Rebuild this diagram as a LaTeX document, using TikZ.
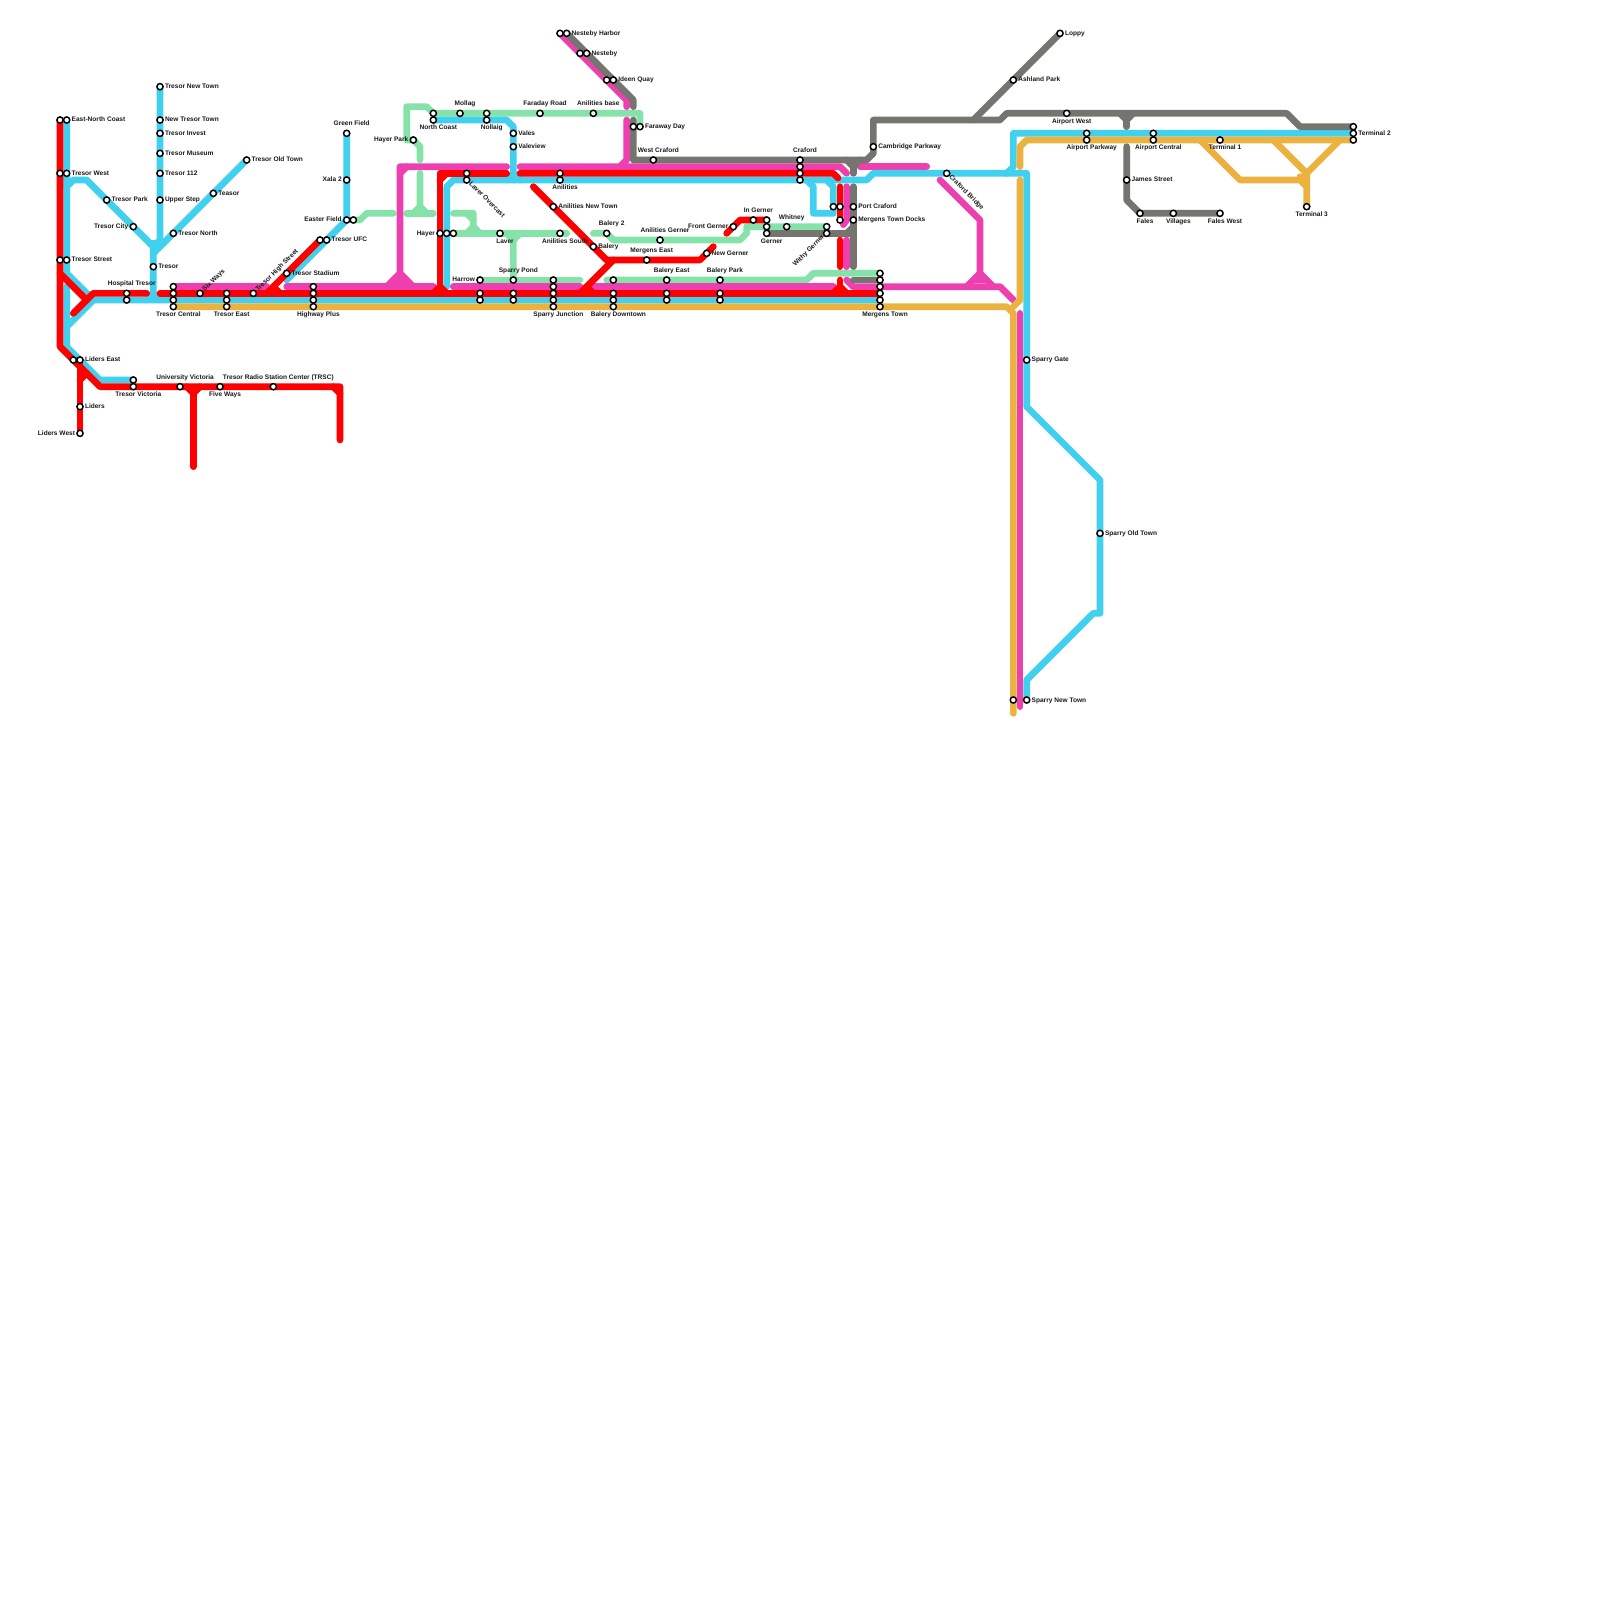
\documentclass[tikz,border=0pt]{standalone}
\usepackage{fontspec}
\setmainfont{Liberation Sans}
\usetikzlibrary{backgrounds}
\definecolor{linered}{HTML}{FF0000}
\definecolor{lineblue}{HTML}{41D0EE}
\definecolor{linepink}{HTML}{EE3FAE}
\definecolor{linegreen}{HTML}{85E3A9}
\definecolor{lineorange}{HTML}{ECB23F}
\definecolor{linegray}{HTML}{76746E}
\tikzset{
  stn/.style={circle,draw=black,fill=white,line width=1.25pt,minimum size=5.3pt,inner sep=0pt},
  every label/.style={font=\fontsize{5.6}{6}\selectfont\bfseries,inner sep=0.8pt,text height=4pt,text depth=0.6pt,text=black!90},
  lr/.style={label={[label distance=0pt]right:#1}},
  ll/.style={label={[label distance=0pt]left:#1}},
  la/.style={label={[xshift=4.3pt,label distance=1.5pt]above:#1}},
  lb/.style={label={[xshift=4.3pt,label distance=0.2pt]below:#1}},
  lne/.style={label={[rotate=45,anchor=west,label distance=-0.6pt]45:#1}},
  lse/.style={label={[rotate=-45,anchor=west,label distance=-0.6pt]-45:#1}},
  lsw/.style={label={[rotate=45,anchor=east,label distance=-0.6pt]-135:#1}},
  rail/.style={line width=5.7pt,line cap=round,line join=round},
  railred/.style={rail,linered},
  railblue/.style={rail,lineblue},
  railpink/.style={rail,linepink},
  railgreen/.style={rail,linegreen},
  railorange/.style={rail,lineorange},
  railgray/.style={rail,linegray},
}
\begin{document}
\begin{tikzpicture}[x=0.2cm,y=-0.2cm]
  \useasboundingbox (0,0) rectangle (240,240);
  % far left
  \node[stn] (enc0) at (9,18) {};
  \node[stn,lr=East-North Coast] (enc) at (10,18) {};
  \node[stn] (tw0) at (9,26) {};
  \node[stn,lr=Tresor West] (tw) at (10,26) {};
  \node[stn] (tst0) at (9,39) {};
  \node[stn,lr=Tresor Street] (tst) at (10,39) {};
  \node[stn] (le0) at (11,54) {};
  \node[stn,lr=Liders East] (le) at (12,54) {};
  \node[stn,lr=Liders] (lid) at (12,61) {};
  \node[stn,ll=Liders West] (lw) at (12,65) {};
  \node[stn] (tvic0) at (20,57) {};
  \node[stn,lb=Tresor Victoria] (tvic) at (20,58) {};
  \node[stn,la=University Victoria] (uvic) at (27,58) {};
  \node[stn,lb=Five Ways] (fw) at (33,58) {};
  \node[stn,la=Tresor Radio Station Center (TRSC)] (trsc) at (41,58) {};
  % Tresor
  \node[stn,lr=Tresor Park] (tpk) at (16,30) {};
  \node[stn,ll=Tresor City] (tcy) at (20,34) {};
  \node[stn,lr=Tresor New Town] (tnt) at (24,13) {};
  \node[stn,lr=New Tresor Town] (ntt) at (24,18) {};
  \node[stn,lr=Tresor Invest] (tiv) at (24,20) {};
  \node[stn,lr=Tresor Museum] (tmu) at (24,23) {};
  \node[stn,lr=Tresor 112] (t112) at (24,26) {};
  \node[stn,lr=Upper Step] (ust) at (24,30) {};
  \node[stn,lr=Tresor North] (tno) at (26,35) {};
  \node[stn,lr=Teasor] (tea) at (32,29) {};
  \node[stn,lr=Tresor Old Town] (tot) at (37,24) {};
  \node[stn,lr=Tresor] (tre) at (23,40) {};
  \node[stn,la=Hospital Tresor] (hos0) at (19,44) {};
  \node[stn] (hos) at (19,45) {};
  \node[stn] (tc0) at (26,43) {};
  \node[stn] (tc1) at (26,44) {};
  \node[stn] (tc2) at (26,45) {};
  \node[stn,lb=Tresor Central] (tc3) at (26,46) {};
  \node[stn,lne=Six Ways] (six) at (30,44) {};
  \node[stn] (te1) at (34,44) {};
  \node[stn] (te2) at (34,45) {};
  \node[stn,lb=Tresor East] (te3) at (34,46) {};
  \node[stn,lne=Tresor High Street] (ths) at (38,44) {};
  \node[stn,lr=Tresor Stadium] (tsd) at (43,41) {};
  \node[stn] (hp0) at (47,43) {};
  \node[stn] (hp1) at (47,44) {};
  \node[stn] (hp2) at (47,45) {};
  \node[stn,lb=Highway Plus] (hp3) at (47,46) {};
  \node[stn] (ufc0) at (48,36) {};
  \node[stn,lr=Tresor UFC] (ufc) at (49,36) {};
  \node[stn,ll=Easter Field] (ef0) at (52,33) {};
  \node[stn] (ef) at (53,33) {};
  \node[stn,ll=Xala 2] (xal) at (52,27) {};
  \node[stn,la=Green Field] (gf) at (52,20) {};
  % middle
  \node[stn,ll=Hayer Park] (hyp) at (62,21) {};
  \node[stn] (nc0) at (65,17) {};
  \node[stn,lb=North Coast] (nc) at (65,18) {};
  \node[stn,la=Mollag] (mol) at (69,17) {};
  \node[stn] (nol0) at (73,17) {};
  \node[stn,lb=Nollaig] (nol) at (73,18) {};
  \node[stn,la=Faraday Road] (far) at (81,17) {};
  \node[stn,la=Anilities base] (anb) at (89,17) {};
  \node[stn,lr=Vales] (val) at (77,20) {};
  \node[stn,lr=Valeview] (vav) at (77,22) {};
  \node[stn] (lo0) at (70,26) {};
  \node[stn,lse=Laver Overcast] (lo) at (70,27) {};
  \node[stn] (ani0) at (84,26) {};
  \node[stn,lb=Anilities] (ani) at (84,27) {};
  \node[stn,lr=Anilities New Town] (ant) at (83,31) {};
  \node[stn,ll=Hayer] (hay0) at (66,35) {};
  \node[stn] (hay1) at (67,35) {};
  \node[stn] (hay2) at (68,35) {};
  \node[stn,lb=Laver] (lav) at (75,35) {};
  \node[stn,lb=Anilities South] (ans) at (84,35) {};
  \node[stn,la=Balery 2] (bal2) at (91,35) {};
  \node[stn,lr=Balery] (bal) at (89,37) {};
  \node[stn,ll=Harrow] (har) at (72,42) {};
  \node[stn] (har1) at (72,44) {};
  \node[stn] (har2) at (72,45) {};
  \node[stn,la=Sparry Pond] (spo) at (77,42) {};
  \node[stn] (spo1) at (77,44) {};
  \node[stn] (spo2) at (77,45) {};
  \node[stn] (sj0) at (83,42) {};
  \node[stn] (sj1) at (83,43) {};
  \node[stn] (sj2) at (83,44) {};
  \node[stn] (sj3) at (83,45) {};
  \node[stn,lb=Sparry Junction] (sj4) at (83,46) {};
  \node[stn] (bd0) at (92,42) {};
  \node[stn] (bd1) at (92,44) {};
  \node[stn] (bd2) at (92,45) {};
  \node[stn,lb=Balery Downtown] (bd3) at (92,46) {};
  \node[stn,la=Balery East] (be0) at (100,42) {};
  \node[stn] (be1) at (100,44) {};
  \node[stn] (be2) at (100,45) {};
  \node[stn,la=Balery Park] (bp0) at (108,42) {};
  \node[stn] (bp1) at (108,44) {};
  \node[stn] (bp2) at (108,45) {};
  \node[stn,la=Mergens East] (mge) at (97,39) {};
  \node[stn,la=Anilities Gerner] (ang) at (99,36) {};
  \node[stn,lr=New Gerner] (ngr) at (106,38) {};
  \node[stn,ll=Front Gerner] (fgr) at (110,34) {};
  \node[stn,la=In Gerner] (igr) at (113,33) {};
  \node[stn] (ger0) at (115,33) {};
  \node[stn] (ger1) at (115,34) {};
  \node[stn,lb=Gerner] (ger2) at (115,35) {};
  \node[stn,la=Whitney] (whi) at (118,34) {};
  \node[stn] (wg0) at (124,34) {};
  \node[stn,lsw=Withy Gerner] (wg1) at (124,35) {};
  \node[stn,la=West Craford] (wcr) at (98,24) {};
  \node[stn] (nst0) at (84,5) {};
  \node[stn,lr=Nesteby Harbor] (nst) at (85,5) {};
  \node[stn] (nby0) at (87,8) {};
  \node[stn,lr=Nesteby] (nby) at (88,8) {};
  \node[stn] (idq0) at (91,12) {};
  \node[stn,lr=Ideen Quay] (idq) at (92,12) {};
  \node[stn] (fwd0) at (95,19) {};
  \node[stn,lr=Faraway Day] (fwd) at (96,19) {};
  \node[stn,la=Craford] (cr0) at (120,24) {};
  \node[stn] (cr1) at (120,25) {};
  \node[stn] (cr2) at (120,26) {};
  \node[stn] (cr3) at (120,27) {};
  \node[stn] (pc0) at (125,31) {};
  \node[stn] (pc1) at (126,31) {};
  \node[stn,lr=Port Craford] (pc) at (128,31) {};
  \node[stn] (mtd0) at (126,33) {};
  \node[stn,lr=Mergens Town Docks] (mtd) at (128,33) {};
  \node[stn] (mt0) at (132,41) {};
  \node[stn] (mt1) at (132,42) {};
  \node[stn] (mt2) at (132,43) {};
  \node[stn] (mt3) at (132,44) {};
  \node[stn] (mt4) at (132,45) {};
  \node[stn,lb=Mergens Town] (mt5) at (132,46) {};
  % right side
  \node[stn,lr=Cambridge Parkway] (cam) at (131,22) {};
  \node[stn,lse=Craford Bridge] (crb) at (142,26) {};
  \node[stn,lr=Sparry Gate] (spg) at (154,54) {};
  \node[stn,lr=Sparry Old Town] (sot) at (165,80) {};
  \node[stn] (snt0) at (152,105) {};
  \node[stn,lr=Sparry New Town] (snt) at (154,105) {};
  \node[stn,lr=Loppy] (lop) at (159,5) {};
  \node[stn,lr=Ashland Park] (ash) at (152,12) {};
  \node[stn,lb=Airport West] (apw) at (160,17) {};
  \node[stn] (app0) at (163,20) {};
  \node[stn,lb=Airport Parkway] (app) at (163,21) {};
  \node[stn] (apc0) at (173,20) {};
  \node[stn,lb=Airport Central] (apc) at (173,21) {};
  \node[stn,lb=Terminal 1] (t1) at (183,21) {};
  \node[stn] (t2a) at (203,19) {};
  \node[stn,lr=Terminal 2] (t2b) at (203,20) {};
  \node[stn] (t2c) at (203,21) {};
  \node[stn,lb=Terminal 3] (t3) at (196,31) {};
  \node[stn,lr=James Street] (jam) at (169,27) {};
  \node[stn,lb=Fales] (fal) at (171,32) {};
  \node[stn,lb=Villages] (vil) at (176,32) {};
  \node[stn,lb=Fales West] (fwe) at (183,32) {};
  % free ends
  \coordinate (gA) at (63,24); \coordinate (gB) at (63,26); \coordinate (gC) at (61,32);
  \coordinate (gD) at (65,32); \coordinate (gE) at (59,32); \coordinate (gF) at (68,32);
  \coordinate (gG) at (85,35); \coordinate (gH) at (87,42); \coordinate (gI) at (89,35);
  \coordinate (gJ) at (91,42);
  \coordinate (pA) at (40,43); \coordinate (pB) at (43,43); \coordinate (pC) at (65,43);
  \coordinate (pD) at (76,25); \coordinate (pE) at (68,43); \coordinate (pF) at (87,43);
  \coordinate (pG) at (89,43); \coordinate (pH) at (125,43); \coordinate (pI) at (78,25);
  \coordinate (pJ) at (94,18); \coordinate (pK) at (94,16); \coordinate (pL) at (129,25);
  \coordinate (pM) at (139,25); \coordinate (pN) at (127,28); \coordinate (pO) at (127,36);
  \coordinate (pP) at (127,40); \coordinate (pQ) at (127,42); \coordinate (pR) at (141,27);
  \coordinate (pS) at (153,47); \coordinate (pT) at (153,106); \coordinate (pU) at (152,45);
  \coordinate (rA) at (11,47); \coordinate (rB) at (22,44); \coordinate (rC) at (24,44);
  \coordinate (rD) at (51,66); \coordinate (rE) at (29,70); \coordinate (rF) at (76,26);
  \coordinate (rG) at (78,26); \coordinate (rH) at (126,28); \coordinate (rI) at (126,36);
  \coordinate (rJ) at (126,40); \coordinate (rK) at (126,42); \coordinate (rL) at (80,28);
  \coordinate (rM) at (107,37); \coordinate (rN) at (109,35); \coordinate (rO) at (13,45);
  \coordinate (oA) at (153,25); \coordinate (oB) at (153,27); \coordinate (oC) at (152,107);
  \coordinate (yA) at (95,16); \coordinate (yB) at (95,18); \coordinate (yC) at (169,19);
  \coordinate (yD) at (169,22); \coordinate (yE) at (128,26); \coordinate (yF) at (128,28);
  \coordinate (yG) at (128,40); \coordinate (yH) at (146,18);
  \begin{pgfonlayer}{background}
    % green
    \draw[railgreen] (gA) -- (63,22) -- (hyp.center) -- (61,21) -- (61,16) -- (64,16) -- (nc0.center) -- (96,17) -- (fwd.center);
    \draw[railgreen] (gB) -- (63,31) -- (62,32);
    \draw[railgreen] (gC) -- (gD);
    \draw[railgreen] (63,31) -- (64,32);
    \draw[railgreen] (ef.center) -- (54,33) -- (55,32) -- (gE);
    \draw[railgreen] (gF) -- (71,32) -- (71,34) -- (70,35);
    \draw[railgreen] (71,34) -- (72,35);
    \draw[railgreen] (70,32) -- (71,33);
    \draw[railgreen] (hay2.center) -- (gG);
    \draw[railgreen] (spo.center) -- (77,36) -- (76,35);
    \draw[railgreen] (77,36) -- (78,35);
    \draw[railgreen] (har.center) -- (gH);
    \draw[railgreen] (gI) -- (bal2.center) -- (92,36) -- (111,36) -- (112,35) -- (112,34) -- (wg0.center);
    \draw[railgreen] (gJ) -- (121,42) -- (122,41) -- (mt0.center);
    % pink
    \draw[railpink] (tc0.center) -- (pA);
    \draw[railpink] (pB) -- (pC);
    \draw[railpink] (58,43) -- (60,41) -- (60,25) -- (pD);
    \draw[railpink] (60,41) -- (62,43);
    \draw[railpink] (60,26) -- (61,25);
    \draw[railpink] (59,42) -- (61,42);
    \draw[railpink] (pE) -- (pF);
    \draw[railpink] (pG) -- (pH);
    \draw[railpink] (pI) -- (126,25) -- (127,26);
    \draw[railpink] (pJ) -- (94,24) -- (93,25);
    \draw[railpink] (nst0.center) -- (94,15) -- (pK);
    \draw[railpink] (pL) -- (pM);
    \draw[railpink] (pN) -- (127,33) -- (126.5,33.7);
    \draw[railpink] (pO) -- (pP);
    \draw[railpink] (pQ) -- (128,43) -- (150,43) -- (pU);
    \draw[railpink] (145,43) -- (147,41) -- (149,43);
    \draw[railpink] (pR) -- (147,33) -- (147,41);
    \draw[railpink] (146,42) -- (148,42);
    \draw[railpink] (pS) -- (pT);
    % blue
    \draw[railblue] (enc.center) -- (10,41) -- (14,45) -- (mt4.center);
    \draw[railblue] (tw.center) -- (10,28) -- (11,27) -- (13,27) -- (23,37) -- (23,44);
    \draw[railblue] (tnt.center) -- (24,36) -- (23,37);
    \draw[railblue] (tot.center) -- (23,38);
    \draw[railblue] (22.5,36.5) -- (24.5,36.5);
    \draw[railblue] (22,45) -- (23,44) -- (24,45);
    \draw[railblue] (10,43) -- (10,52) -- (15,57) -- (tvic0.center);
    \draw[railblue] (14,45) -- (10,49);
    \draw[railblue] (gf.center) -- (52,33) -- (43,42);
    \draw[railblue] (nc.center) -- (76,18) -- (77,19) -- (77,27);
    \draw[railblue] (76,27) -- (77,26) -- (78,27);
    \draw[railblue] (67,43) -- (67,28) -- (68,27) -- (130,27) -- (131,26) -- (154,26) -- (spg.center) -- (154,61) -- (165,72) -- (165,92) -- (164,92) -- (154,102) -- (snt.center);
    \draw[railblue] (121,27) -- (122,28) -- (122,32) -- (125,32) -- (125,28) -- (124,27);
    \draw[railblue] (151,26) -- (152,25) -- (152,20) -- (t2b.center);
    % red
    \draw[railred] (enc0.center) -- (9,52) -- (15,58) -- (51,58) -- (rD);
    \draw[railred] (50,58) -- (51,59);
    \draw[railred] (28,58) -- (29,59) -- (30,58);
    \draw[railred] (29,59) -- (rE);
    \draw[railred] (9,41) -- (rO);
    \draw[railred] (rA) -- (14,44) -- (rB);
    \draw[railred] (rC) -- (mt3.center);
    \draw[railred] (ufc0.center) -- (40,44);
    \draw[railred] (41,43) -- (42,44);
    \draw[railred] (65,44) -- (66,43) -- (67,44);
    \draw[railred] (125,44) -- (126,43) -- (127,44);
    \draw[railred] (66,43) -- (66,26) -- (rF);
    \draw[railred] (66,27) -- (67,26);
    \draw[railred] (rG) -- (125,26) -- (125.7,26.7);
    \draw[railred] (rH) -- (mtd0.center);
    \draw[railred] (rI) -- (rJ);
    \draw[railred] (rK) -- (126,43);
    \draw[railred] (rL) -- (91,39) -- (105,39) -- (rM);
    \draw[railred] (92,39) -- (87,44);
    \draw[railred] (88,43) -- (89,44);
    \draw[railred] (rN) -- (111,33) -- (ger0.center);
    \draw[railred] (le.center) -- (lw.center);
    \draw[railred] (12,57) -- (13,56);
    % orange
    \draw[railorange] (tc3.center) -- (151,46) -- (152,47) -- (oC);
    \draw[railorange] (oB) -- (153,45) -- (152,46);
    \draw[railorange] (oA) -- (153,22) -- (154,21) -- (t2c.center);
    \draw[railorange] (180,21) -- (186,27) -- (195,27) -- (196,28);
    \draw[railorange] (191,21) -- (196,26) -- (201,21);
    \draw[railorange] (195,27) -- (196,26) -- (t3.center);
    \draw[railorange] (195,26.5) -- (196,27);
    % gray
    \draw[railgray] (nst.center) -- (95,15) -- (yA);
    \draw[railgray] (yB) -- (95,24) -- (130,24) -- (131,23) -- (131,18) -- (150,18) -- (151,17) -- (193,17) -- (195,19) -- (t2a.center);
    \draw[railgray] (lop.center) -- (yH);
    \draw[railgray] (168,17) -- (169,18) -- (170,17);
    \draw[railgray] (169,18) -- (yC);
    \draw[railgray] (yD) -- (169,30) -- (fal.center) -- (fwe.center);
    \draw[railgray] (127,24) -- (128,25) -- (129,24);
    \draw[railgray] (128,25) -- (yE);
    \draw[railgray] (yF) -- (yG);
    \draw[railgray] (ger2.center) -- (128,35);
    \draw[railgray] (127,35) -- (128,34);
    \draw[railgray] (mt1.center) -- (128,42);
  \end{pgfonlayer}
\end{tikzpicture}
\end{document}
